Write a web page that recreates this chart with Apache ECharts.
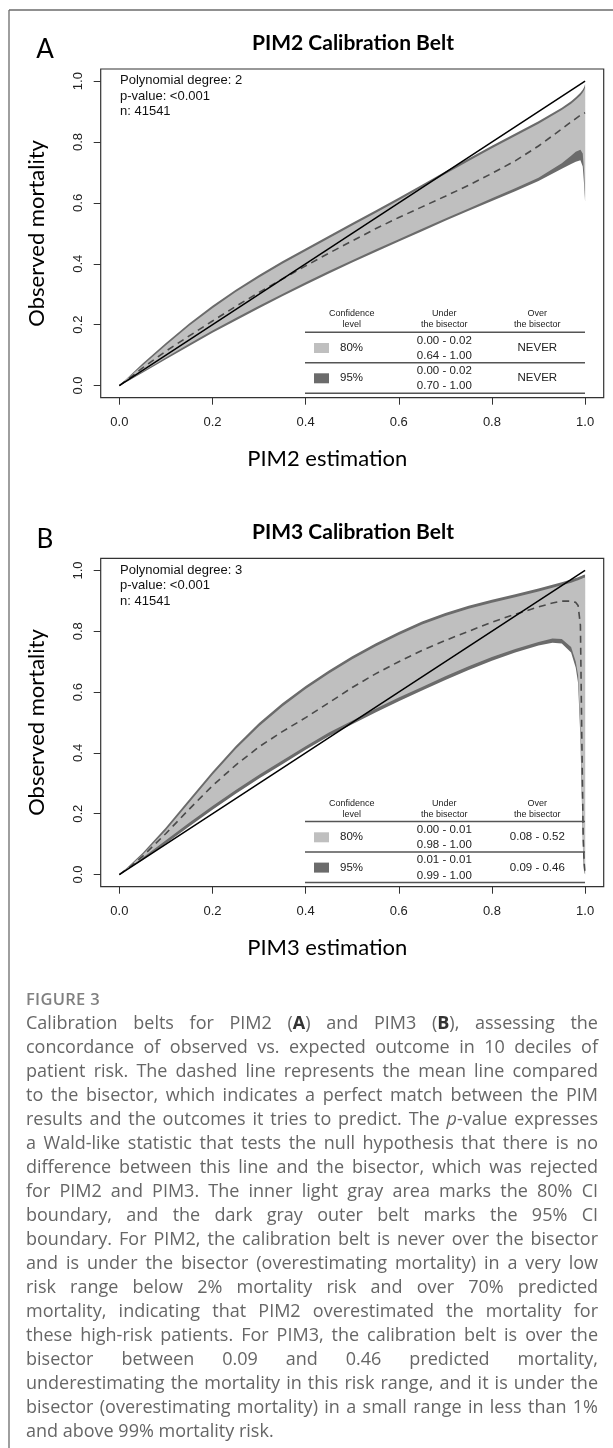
<!DOCTYPE html>
<html>
<head>
<meta charset="utf-8">
<script src="https://cdn.jsdelivr.net/npm/echarts@6.0.0/dist/echarts.min.js"></script>
<style>
  html, body { margin: 0; padding: 0; background: #fff; }
  #chart { position: absolute; left: 0; top: 0; width: 613px; height: 1448px; }
  #caption { position: absolute; left: 0; top: 0; width: 613px; height: 1448px; pointer-events: none;
             font-family: "Open Sans", "Noto Sans", sans-serif; color: #666; }
  .fig { position: absolute; left: 26px; top: 988px; height: 22px; line-height: 22px; font-size: 16.5px;
         font-weight: 600; color: #808080; letter-spacing: 0.3px; }
  .ln { position: absolute; left: 26px; height: 24px; line-height: 24px; font-size: 18px; white-space: nowrap; }
  .ln b { font-weight: 700; color: #333; }
</style>
</head>
<body>
<div id="chart"></div>
<div id="caption"></div>
<script>
// ---------- data ----------
const tickValues = [0, 0.2, 0.4, 0.6, 0.8, 1.0];
const bisectorX = [0, 1];
const bisectorY = [0, 1];

// Panel A: PIM2
const xsA      = [0, 0.02, 0.05, 0.1, 0.15, 0.2, 0.25, 0.3, 0.35, 0.4, 0.45, 0.5, 0.55, 0.6, 0.65, 0.7, 0.75, 0.8, 0.85, 0.9, 0.95, 0.97, 0.98, 0.99, 0.995, 0.998, 1.0];
const upper95A = [0, 0.029, 0.072, 0.14, 0.204, 0.262, 0.315, 0.363, 0.408, 0.45, 0.492, 0.534, 0.575, 0.617, 0.66, 0.703, 0.746, 0.788, 0.828, 0.868, 0.913, 0.934, 0.947, 0.962, 0.972, 0.98, 0.99];
const upper80A = [0, 0.027, 0.066, 0.132, 0.196, 0.254, 0.307, 0.355, 0.4, 0.442, 0.484, 0.526, 0.567, 0.609, 0.652, 0.695, 0.738, 0.78, 0.82, 0.86, 0.905, 0.926, 0.939, 0.953, 0.963, 0.971, 0.98];
const meanA    = [0, 0.023, 0.058, 0.113, 0.163, 0.212, 0.26, 0.306, 0.35, 0.393, 0.435, 0.475, 0.515, 0.552, 0.587, 0.622, 0.658, 0.697, 0.738, 0.787, 0.843, 0.866, 0.877, 0.888, 0.893, 0.895, 0.896];
const lower80A = [0, 0.018, 0.046, 0.092, 0.137, 0.181, 0.222, 0.262, 0.301, 0.339, 0.376, 0.412, 0.447, 0.481, 0.515, 0.549, 0.582, 0.615, 0.648, 0.683, 0.73, 0.755, 0.768, 0.775, 0.762, 0.70, 0.615];
const lower95A = [0, 0.016, 0.042, 0.086, 0.13, 0.173, 0.214, 0.254, 0.293, 0.331, 0.368, 0.404, 0.439, 0.473, 0.507, 0.541, 0.574, 0.606, 0.638, 0.672, 0.712, 0.728, 0.735, 0.74, 0.72, 0.66, 0.605];

// Panel B: PIM3
const xsB      = [0, 0.02, 0.05, 0.1, 0.15, 0.2, 0.25, 0.3, 0.35, 0.4, 0.45, 0.5, 0.55, 0.6, 0.65, 0.7, 0.75, 0.8, 0.85, 0.9, 0.93, 0.95, 0.97, 0.98, 0.985, 0.99, 0.993, 0.996, 0.998, 1.0];
const upper95B = [0, 0.027, 0.071, 0.155, 0.247, 0.338, 0.423, 0.498, 0.563, 0.62, 0.671, 0.718, 0.76, 0.798, 0.832, 0.86, 0.884, 0.904, 0.922, 0.941, 0.953, 0.961, 0.97, 0.975, 0.978, 0.981, 0.983, 0.985, 0.986, 0.987];
const upper80B = [0, 0.025, 0.065, 0.146, 0.237, 0.328, 0.413, 0.488, 0.553, 0.61, 0.661, 0.708, 0.75, 0.788, 0.822, 0.85, 0.874, 0.894, 0.912, 0.931, 0.943, 0.951, 0.96, 0.965, 0.968, 0.971, 0.973, 0.975, 0.976, 0.977];
const meanB    = [0, 0.022, 0.06, 0.135, 0.215, 0.292, 0.36, 0.42, 0.47, 0.516, 0.565, 0.615, 0.66, 0.70, 0.737, 0.77, 0.80, 0.83, 0.856, 0.88, 0.893, 0.899, 0.899, 0.895, 0.885, 0.82, 0.45, 0.12, 0.04, 0.0];
const lower80B = [0, 0.021, 0.055, 0.113, 0.17, 0.225, 0.278, 0.328, 0.375, 0.422, 0.467, 0.506, 0.545, 0.582, 0.617, 0.652, 0.685, 0.715, 0.742, 0.765, 0.776, 0.775, 0.748, 0.70, 0.655, 0.48, 0.29, 0.08, 0.02, 0.0];
const lower95B = [0, 0.019, 0.048, 0.102, 0.158, 0.213, 0.266, 0.316, 0.363, 0.41, 0.455, 0.494, 0.533, 0.57, 0.605, 0.64, 0.673, 0.703, 0.73, 0.753, 0.762, 0.76, 0.73, 0.68, 0.63, 0.45, 0.25, 0.05, 0.01, 0.0];

// text content
const panelLetters = ['A', 'B'];
const panelTitles = ['PIM2 Calibration Belt', 'PIM3 Calibration Belt'];
const xNames = ['PIM2 estimation', 'PIM3 estimation'];
const yName = 'Observed mortality';
const statsA = ['Polynomial degree: 2', 'p-value: <0.001', 'n: 41541'];
const statsB = ['Polynomial degree: 3', 'p-value: <0.001', 'n: 41541'];
const tableHeaders = [['Confidence', 'level'], ['Under', 'the bisector'], ['Over', 'the bisector']];
const confLevels = ['80%', '95%'];
const underA = [['0.00 - 0.02', '0.64 - 1.00'], ['0.00 - 0.02', '0.70 - 1.00']];
const overA = ['NEVER', 'NEVER'];
const underB = [['0.00 - 0.01', '0.98 - 1.00'], ['0.01 - 0.01', '0.99 - 1.00']];
const overB = ['0.08 - 0.52', '0.09 - 0.46'];

const captionTitle = 'FIGURE 3';
const captionLines = [
  'Calibration belts for PIM2 (<b>A</b>) and PIM3 (<b>B</b>), assessing the',
  'concordance of observed vs. expected outcome in 10 deciles of',
  'patient risk. The dashed line represents the mean line compared',
  'to the bisector, which indicates a perfect match between the PIM',
  'results and the outcomes it tries to predict. The <i>p</i>-value expresses',
  'a Wald-like statistic that tests the null hypothesis that there is no',
  'difference between this line and the bisector, which was rejected',
  'for PIM2 and PIM3. The inner light gray area marks the 80% CI',
  'boundary, and the dark gray outer belt marks the 95% CI',
  'boundary. For PIM2, the calibration belt is never over the bisector',
  'and is under the bisector (overestimating mortality) in a very low',
  'risk range below 2% mortality risk and over 70% predicted',
  'mortality, indicating that PIM2 overestimated the mortality for',
  'these high-risk patients. For PIM3, the calibration belt is over the',
  'bisector between 0.09 and 0.46 predicted mortality,',
  'underestimating the mortality in this risk range, and it is under the',
  'bisector (overestimating mortality) in a small range in less than 1%',
  'and above 99% mortality risk.'
];

// ---------- layout / style ----------
const LIGHT = '#bfbfbf', DARK = '#6b6b6b';
const AXISCOL = '#333';
const SANS = '"Liberation Sans", Arial, sans-serif';
const panels = [
  { top: 69, height: 328.7, dy: 0, xs: xsA, u95: upper95A, u80: upper80A, m: meanA, l80: lower80A, l95: lower95A,
    stats: statsA, under: underA, over: overA },
  { top: 558.3, height: 328.4, dy: 489.3, xs: xsB, u95: upper95B, u80: upper80B, m: meanB, l80: lower80B, l95: lower95B,
    stats: statsB, under: underB, over: overB }
];

function txt(x, y, text, font, fill, align) {
  align = align || 'left';
  return { type: 'text', x: x, y: y, silent: true, z: 100,
    style: { text: text, font: font, fill: fill, align: align, verticalAlign: 'middle',
             textAlign: align, textVerticalAlign: 'middle' } };
}
function hline(x1, x2, y, color, w) {
  return { type: 'line', silent: true, z: 100, shape: { x1: x1, y1: y, x2: x2, y2: y },
    style: { stroke: color, lineWidth: w } };
}

const grids = [], xAxes = [], yAxes = [], series = [], graphics = [];

// outer frame
graphics.push({ type: 'line', silent: true, shape: { x1: 9, y1: 10, x2: 613, y2: 10 }, style: { stroke: '#6b6b6b', lineWidth: 1.3 } });
graphics.push({ type: 'line', silent: true, shape: { x1: 9, y1: 10, x2: 9, y2: 1448 }, style: { stroke: '#6b6b6b', lineWidth: 1.3 } });

function band(idx, xs, up, lo, color, z) {
  return {
    type: 'custom', coordinateSystem: 'cartesian2d', xAxisIndex: idx, yAxisIndex: idx,
    silent: true, z: z, data: [[0.5, 0.5]],
    renderItem: function (params, api) {
      const pts = [];
      for (let i = 0; i < xs.length; i++) pts.push(api.coord([xs[i], up[i]]));
      for (let i = xs.length - 1; i >= 0; i--) pts.push(api.coord([xs[i], lo[i]]));
      return { type: 'polygon', shape: { points: pts }, style: { fill: color, stroke: null } };
    }
  };
}

panels.forEach(function (p, idx) {
  grids.push({ left: 100.7, right: 9.3, top: p.top, height: p.height, show: true,
    borderColor: AXISCOL, borderWidth: 1.2, backgroundColor: 'transparent', containLabel: false });
  xAxes.push({
    type: 'value', gridIndex: idx, min: -0.04, max: 1.04, position: 'bottom',
    name: xNames[idx], nameLocation: 'middle', nameGap: 50,
    nameTextStyle: { fontFamily: 'Lato', fontSize: 22, color: '#000', padding: [0, 50, 0, 0] },
    axisLine: { show: false, onZero: false },
    axisTick: { show: true, customValues: tickValues, length: 7, lineStyle: { color: AXISCOL, width: 1 } },
    axisLabel: { customValues: tickValues, formatter: function (v) { return v.toFixed(1); },
      fontFamily: SANS, fontSize: 13, color: '#222', margin: 18 },
    splitLine: { show: false }
  });
  yAxes.push({
    type: 'value', gridIndex: idx, min: -0.04, max: 1.04, position: 'left',
    name: yName, nameLocation: 'middle', nameGap: 53,
    nameTextStyle: { fontFamily: 'Lato', fontSize: 22, color: '#000' },
    axisLine: { show: false, onZero: false },
    axisTick: { show: true, customValues: tickValues, length: 7, lineStyle: { color: AXISCOL, width: 1 } },
    axisLabel: { customValues: tickValues, formatter: function (v) { return v.toFixed(1); },
      fontFamily: SANS, fontSize: 13, color: '#222', margin: 16, rotate: 90 },
    splitLine: { show: false }
  });

  series.push(band(idx, p.xs, p.u95, p.l95, DARK, 2));
  series.push(band(idx, p.xs, p.u80, p.l80, LIGHT, 3));
  series.push({
    type: 'line', xAxisIndex: idx, yAxisIndex: idx, z: 4, silent: true,
    data: p.xs.map(function (x, i) { return [x, p.m[i]]; }),
    showSymbol: false, symbol: 'none',
    lineStyle: { color: '#4a4a4a', width: 1.6, type: [7, 5] }
  });
  series.push({
    type: 'line', xAxisIndex: idx, yAxisIndex: idx, z: 5, silent: true,
    data: bisectorX.map(function (x, i) { return [x, bisectorY[i]]; }),
    showSymbol: false, symbol: 'none',
    lineStyle: { color: '#000', width: 1.5 }
  });

  const dy = p.dy;
  graphics.push(txt(45, 50 + dy, panelLetters[idx], '26px Lato', '#000', 'center'));
  graphics.push(txt(353, 43 + dy, panelTitles[idx], 'bold 21px Lato', '#000', 'center'));
  p.stats.forEach(function (s, k) {
    graphics.push(txt(120, 80.7 + k * 15.5 + dy, s, '13px ' + SANS, '#111', 'left'));
  });
  const colX = [351.7, 444.3, 537.3];
  tableHeaders.forEach(function (h, c) {
    graphics.push(txt(colX[c], 314 + dy, h[0], '9px ' + SANS, '#222', 'center'));
    graphics.push(txt(colX[c], 325 + dy, h[1], '9px ' + SANS, '#222', 'center'));
  });
  graphics.push(hline(305, 585, 332.3 + dy, '#555', 1.5));
  graphics.push(hline(305, 585, 362.7 + dy, '#555', 1.5));
  graphics.push(hline(305, 585, 393.3 + dy, '#555', 1.5));
  const rowY = [348, 378.3];
  const swCol = [LIGHT, DARK];
  rowY.forEach(function (ry, r) {
    graphics.push({ type: 'rect', silent: true, z: 100, shape: { x: 314, y: ry - 5 + dy, width: 15, height: 10 },
      style: { fill: swCol[r] } });
    graphics.push(txt(340, ry + dy, confLevels[r], '11.5px ' + SANS, '#222', 'left'));
    graphics.push(txt(444.3, ry - 7.5 + dy, p.under[r][0], '11.5px ' + SANS, '#222', 'center'));
    graphics.push(txt(444.3, ry + 7.8 + dy, p.under[r][1], '11.5px ' + SANS, '#222', 'center'));
    graphics.push(txt(537.3, ry + dy, p.over[r], '11.5px ' + SANS, '#222', 'center'));
  });
});

const chart = echarts.init(document.getElementById('chart'), null, { renderer: 'canvas' });
chart.setOption({
  animation: false,
  backgroundColor: '#fff',
  grid: grids, xAxis: xAxes, yAxis: yAxes, series: series, graphic: graphics
});

// ---------- caption ----------
const cap = document.getElementById('caption');
const fig = document.createElement('div');
fig.className = 'fig'; fig.textContent = captionTitle; cap.appendChild(fig);
const lineEls = [];
captionLines.forEach(function (t, i) {
  const d = document.createElement('div');
  d.className = 'ln';
  d.style.top = (1009.7 + i * 24) + 'px';
  d.innerHTML = t;
  cap.appendChild(d);
  lineEls.push(d);
});
function justify() {
  const target = 572;
  lineEls.forEach(function (d, i) {
    d.style.wordSpacing = '0px';
    if (i === lineEls.length - 1) return;
    const w = d.getBoundingClientRect().width;
    const n = (d.textContent.match(/ /g) || []).length;
    if (n > 0) d.style.wordSpacing = ((target - w) / n) + 'px';
  });
}
justify();
if (document.fonts && document.fonts.ready) document.fonts.ready.then(justify);
</script>
</body>
</html>
